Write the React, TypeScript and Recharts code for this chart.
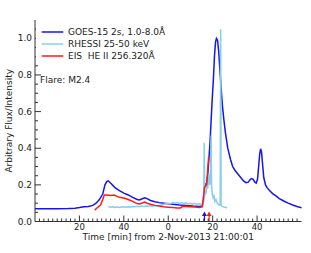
import { LineChart, Line, XAxis, YAxis, ReferenceLine, Legend } from "recharts";

// GOES-15 1.0-8.0 A, time in minutes
const goesTime = [
  0, 5, 10, 15, 18, 20, 22, 24, 26, 27.5, 29, 30.5, 31.5, 32.3, 33, 34, 36, 38, 40, 42, 44, 46, 47, 48, 49.4,
  50.5, 52, 54, 56, 58, 60, 62, 65, 68, 71, 74, 75.3, 75.8, 76.3, 76.8, 77.3, 77.8, 78.3, 78.8, 79.3, 79.8,
  80.3, 80.8, 81.3, 81.7, 82.2, 82.7, 83.3, 83.8, 84.4, 85, 85.8, 86.8, 88, 89, 90, 91, 92, 93, 94, 95, 96,
  97, 97.5, 98.2, 99, 99.6, 100.2, 100.7, 101.2, 101.6, 102, 102.5, 103, 103.8, 104.5, 105.5, 107, 108.5,
  110, 112, 114, 116, 118, 120,
];
const goesFlux = [
  0.069, 0.069, 0.07, 0.071, 0.073, 0.076, 0.08, 0.082, 0.088, 0.1, 0.12, 0.15, 0.2, 0.218, 0.222, 0.21,
  0.185, 0.168, 0.155, 0.145, 0.132, 0.12, 0.118, 0.123, 0.13, 0.125, 0.115, 0.108, 0.103, 0.1, 0.097,
  0.094, 0.09, 0.087, 0.084, 0.082, 0.085, 0.12, 0.19, 0.205, 0.21, 0.26, 0.34, 0.43, 0.55, 0.67, 0.77,
  0.9, 0.98, 1.0, 0.99, 0.93, 0.82, 0.73, 0.63, 0.56, 0.48, 0.4, 0.34, 0.3, 0.28, 0.265, 0.25, 0.235,
  0.22, 0.212, 0.215, 0.23, 0.234, 0.23, 0.215, 0.21, 0.23, 0.3, 0.37, 0.397, 0.38, 0.31, 0.24, 0.2,
  0.185, 0.17, 0.152, 0.14, 0.125, 0.112, 0.1, 0.09, 0.082, 0.075,
];

// RHESSI 25-50 keV
const rhessiTime = [
  33, 34, 35, 36, 37, 38, 39, 40, 41, 42, 43, 44, 45, 46, 47, 48, 49, 50, 51, 52, 53, 54, 55, 56, 57, 58,
  59, 60, 61, 62, 63, 64, 65, 66, 67, 68, 69, 70, 71, 72, 73, 74, 75, 75.6, 76, 76.2, 76.4, 76.7, 77, 77.4,
  77.8, 78.1, 78.4, 78.7, 79, 79.3, 79.5, 79.8, 80.2, 80.6, 81, 81.5, 82, 82.5, 83, 83.4, 83.6, 83.8, 84.2,
  84.8, 85.5, 86.5,
];
const rhessiFlux = [
  0.082, 0.078, 0.08, 0.077, 0.079, 0.076, 0.079, 0.08, 0.078, 0.081, 0.079, 0.082, 0.08, 0.083, 0.081,
  0.084, 0.082, 0.085, 0.083, 0.086, 0.084, 0.087, 0.085, 0.088, 0.09, 0.094, 0.097, 0.1, 0.097, 0.103,
  0.1, 0.105, 0.099, 0.104, 0.098, 0.102, 0.097, 0.1, 0.095, 0.099, 0.094, 0.097, 0.092, 0.095, 0.11, 0.43,
  0.14, 0.17, 0.15, 0.2, 0.18, 0.24, 0.26, 0.2, 0.22, 0.47, 0.2, 0.15, 0.13, 0.14, 0.11, 0.12, 0.1, 0.095,
  0.09, 0.09, 1.05, 0.09, 0.082, 0.08, 0.078, 0.075,
];

// EIS He II 256.320 A
const eisTime = [
  26.9, 28, 29.5, 30.5, 31.2, 32.5, 34, 35.5, 36.5, 38, 40, 42, 44, 46, 47, 48, 49.4, 50.5, 52, 54, 56, 58,
  60, 62, 64, 65.5, 66.5, 68, 70, 72, 74, 75.3, 75.8, 76.3, 76.8, 77.3, 77.7, 78.2,
];
const eisFlux = [
  0.062, 0.075, 0.09, 0.12, 0.145, 0.145, 0.142, 0.145, 0.14, 0.132, 0.128, 0.12, 0.11, 0.098, 0.096, 0.1,
  0.106, 0.1, 0.094, 0.088, 0.085, 0.08, 0.078, 0.076, 0.074, 0.074, 0.083, 0.082, 0.081, 0.079, 0.077,
  0.08, 0.12, 0.185, 0.195, 0.2, 0.27, 0.355,
];

const seriesNames = ["GOES-15 2s, 1.0-8.0Å", "RHESSI 25-50 keV", "EIS  HE II 256.320Å"];

// arrows marking GOES and EIS onsets
const goesArrow = 76.3;
const eisArrow = 78.4;

const majorXTicks = [20, 40, 60, 80, 100];
const minorXTicks = Array.from({ length: 59 }, (_, i) => (i + 1) * 2);
const majorYTicks = [0, 0.2, 0.4, 0.6, 0.8, 1.0];
const minorYTicks = Array.from({ length: 22 }, (_, i) => Math.round(i * 5) / 100);

const toPoints = (t: number[], v: number[]) => t.map((x, i) => ({ t: x, v: v[i] }));

const FRAME = "#333";
const FONT = "'DejaVu Sans', sans-serif";

const isMajorX = (v: number) => majorXTicks.includes(v);
const isMajorY = (v: number) => majorYTicks.some((m) => Math.abs(m - v) < 1e-6);

const BottomTick = ({ x, y, payload }: any) => {
  const major = isMajorX(payload.value);
  return (
    <g>
      <line x1={x} y1={y} x2={x} y2={y - (major ? 6 : 3)} stroke={FRAME} />
      {major && (
        <text x={x} y={y + 8.5} textAnchor="middle" fontSize={8.5} fill="#222" fontFamily={FONT}>
          {payload.value % 60}
        </text>
      )}
    </g>
  );
};

const TopTick = ({ x, y, payload }: any) => (
  <line x1={x} y1={y} x2={x} y2={y + (isMajorX(payload.value) ? 6 : 3)} stroke={FRAME} />
);

const LeftTick = ({ x, y, payload }: any) => {
  const major = isMajorY(payload.value);
  return (
    <g>
      <line x1={x} y1={y} x2={x + (major ? 6 : 3)} y2={y} stroke={FRAME} />
      {major && (
        <text x={x - 3} y={y + 3} textAnchor="end" fontSize={9} fill="#222" fontFamily={FONT}>
          {payload.value.toFixed(1)}
        </text>
      )}
    </g>
  );
};

const RightTick = ({ x, y, payload }: any) => (
  <line x1={x} y1={y} x2={x - (isMajorY(payload.value) ? 6 : 3)} y2={y} stroke={FRAME} />
);

const arrow = (color: string) => (props: any) => {
  const { x1, y1, x2, y2 } = props;
  return (
    <g>
      <line x1={x1} y1={y1} x2={x2} y2={y2 + 2} stroke={color} strokeWidth={1.2} />
      <polygon points={`${x2},${y2} ${x2 - 2.5},${y2 + 4.5} ${x2 + 2.5},${y2 + 4.5}`} fill={color} />
    </g>
  );
};

const LegendBox = ({ payload }: any) => {
  const items = [...(payload || [])].sort(
    (a: any, b: any) => seriesNames.indexOf(a.value) - seriesNames.indexOf(b.value)
  );
  return (
    <div style={{ background: "#fff", paddingTop: 4.5, fontFamily: FONT }}>
      {items.map((e: any) => (
        <div key={e.value} style={{ display: "flex", alignItems: "center", height: 12 }}>
          <svg width={32} height={12}>
            <line x1={5.7} x2={27.3} y1={6} y2={6} stroke={e.color} strokeWidth={1.5} />
          </svg>
          <span style={{ fontSize: 9, color: "#222", whiteSpace: "pre" }}>{e.value}</span>
        </div>
      ))}
    </div>
  );
};

export default function App() {
  return (
    <div style={{ position: "absolute", left: 0, top: 0, width: 311, height: 253, background: "#fff", fontFamily: FONT }}>
      <LineChart width={311} height={253} margin={{ top: 20, right: 9.5, bottom: 0, left: 0 }}>
        <XAxis
          dataKey="t"
          type="number"
          domain={[0, 120]}
          ticks={minorXTicks}
          interval={0}
          height={31.5}
          tickSize={0}
          tickMargin={0}
          tickLine={false}
          axisLine={{ stroke: FRAME }}
          tick={<BottomTick />}
          label={{
            value: "Time [min] from 2-Nov-2013 21:00:01",
            position: "insideTop",
            offset: 12.5,
            fontSize: 9,
            fill: "#222",
            fontFamily: FONT,
          }}
        />
        <XAxis
          xAxisId="top"
          orientation="top"
          type="number"
          domain={[0, 120]}
          ticks={minorXTicks}
          interval={0}
          height={0}
          tickSize={0}
          tickMargin={0}
          tickLine={false}
          axisLine={{ stroke: FRAME }}
          tick={<TopTick />}
        />
        <YAxis
          type="number"
          domain={[0, 1.1]}
          ticks={minorYTicks}
          interval={0}
          width={35}
          tickSize={0}
          tickMargin={0}
          tickLine={false}
          axisLine={{ stroke: FRAME }}
          tick={<LeftTick />}
          label={{
            value: "Arbitrary Flux/Intensity",
            angle: -90,
            position: "center",
            dx: -9,
            fontSize: 9,
            fill: "#222",
            fontFamily: FONT,
          }}
        />
        <YAxis
          yAxisId="right"
          orientation="right"
          type="number"
          domain={[0, 1.1]}
          ticks={minorYTicks}
          interval={0}
          width={0}
          tickSize={0}
          tickMargin={0}
          tickLine={false}
          axisLine={{ stroke: FRAME }}
          tick={<RightTick />}
        />
        <Line
          data={toPoints(goesTime, goesFlux)}
          dataKey="v"
          name={seriesNames[0]}
          stroke="#1515f0"
          strokeWidth={1.5}
          dot={false}
          isAnimationActive={false}
        />
        <Line
          data={toPoints(rhessiTime, rhessiFlux)}
          dataKey="v"
          name={seriesNames[1]}
          stroke="#87ceeb"
          strokeWidth={1.5}
          dot={false}
          isAnimationActive={false}
        />
        <Line
          data={toPoints(eisTime, eisFlux)}
          dataKey="v"
          name={seriesNames[2]}
          stroke="#ff1a1a"
          strokeWidth={1.5}
          dot={false}
          isAnimationActive={false}
        />
        <ReferenceLine
          segment={[{ x: goesArrow, y: 0 }, { x: goesArrow, y: 0.055 }]}
          shape={arrow("#1515f0")}
        />
        <ReferenceLine
          segment={[{ x: eisArrow, y: 0 }, { x: eisArrow, y: 0.055 }]}
          shape={arrow("#ff1a1a")}
        />
        <Legend
          layout="vertical"
          align="center"
          verticalAlign="middle"
          content={<LegendBox />}
          wrapperStyle={{ left: 36, top: 21, width: 136, height: 43, bottom: "auto", right: "auto" }}
        />
      </LineChart>
      <div
        style={{
          position: "absolute",
          left: 40,
          top: 75,
          fontSize: 9,
          lineHeight: "10px",
          color: "#222",
          whiteSpace: "nowrap",
        }}
      >
        Flare: M2.4
      </div>
    </div>
  );
}
